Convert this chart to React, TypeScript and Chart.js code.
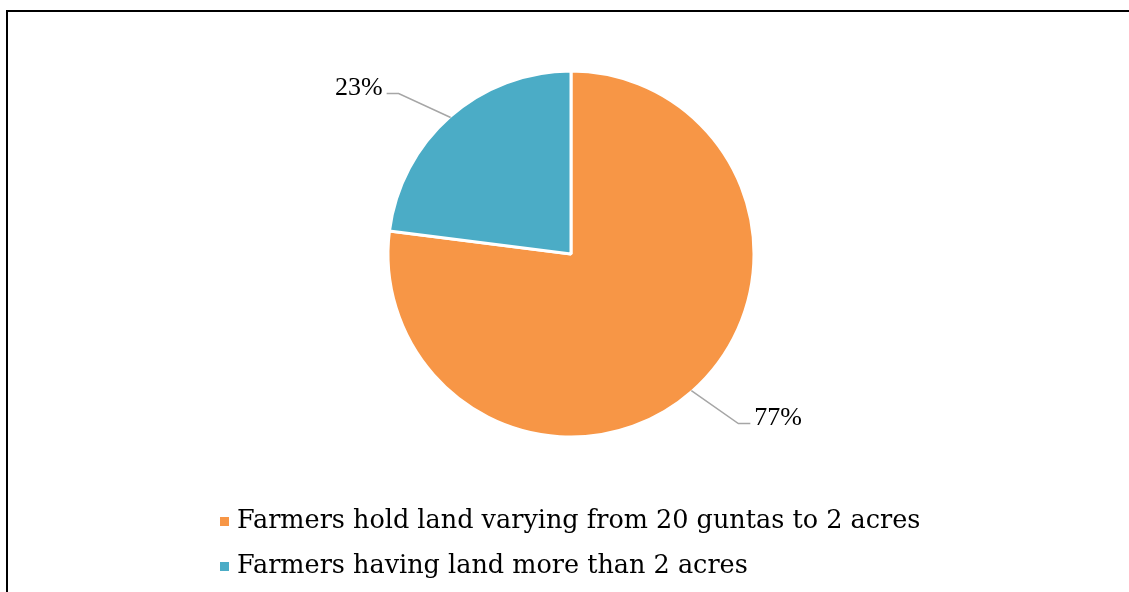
import React, { useEffect, useRef } from "react";
import { Chart, registerables } from "chart.js";

Chart.register(...registerables);

const categories = [
  "Farmers hold land varying from 20 guntas to 2 acres",
  "Farmers having land more than 2 acres",
];
const shares = [77, 23];
const sliceColors = ["#F79646", "#4BACC6"];

const W = 1129;
const H = 592;

// leader-line elbow offsets per slice (style only)
const leaderOffsets = [
  [47, 33],
  [52, 24],
];

const labelPlugin = {
  id: "leaderLabels",
  afterDraw(chart: any) {
    const ctx = chart.ctx;
    const meta = chart.getDatasetMeta(0);
    const data = chart.data.datasets[0].data as number[];
    const total = data.reduce((a, b) => a + b, 0);
    ctx.save();
    meta.data.forEach((arc: any, i: number) => {
      const { x, y, startAngle, endAngle, outerRadius } = arc.getProps(
        ["x", "y", "startAngle", "endAngle", "outerRadius"],
        true
      );
      const mid = (startAngle + endAngle) / 2;
      const ex = x + Math.cos(mid) * (outerRadius - 1);
      const ey = y + Math.sin(mid) * (outerRadius - 1);
      const sx = Math.cos(mid) >= 0 ? 1 : -1;
      const sy = Math.sin(mid) >= 0 ? 1 : -1;
      const [ox, oy] = leaderOffsets[i];
      const bx = ex + sx * ox;
      const by = ey + sy * oy;
      const tx = bx + sx * 12;
      ctx.strokeStyle = "#A6A6A6";
      ctx.lineWidth = 1.5;
      ctx.beginPath();
      ctx.moveTo(ex, ey);
      ctx.lineTo(bx, by);
      ctx.lineTo(tx, by);
      ctx.stroke();
      ctx.fillStyle = "#000";
      ctx.font = "26px 'Liberation Serif', serif";
      ctx.textAlign = sx > 0 ? "left" : "right";
      ctx.textBaseline = "alphabetic";
      const pct = Math.round((data[i] / total) * 100) + "%";
      ctx.fillText(pct, tx + sx * 4, by + 1.5);
    });
    ctx.restore();
  },
};

const legendPlugin = {
  id: "listLegend",
  afterDraw(chart: any) {
    const ctx = chart.ctx;
    const area = chart.chartArea;
    const ds = chart.data.datasets[0];
    ctx.save();
    ctx.font = "25.5px 'DejaVu Serif', serif";
    ctx.textBaseline = "alphabetic";
    ctx.textAlign = "left";
    (chart.data.labels as string[]).forEach((lab, i) => {
      const base = area.bottom + 20 + i * 45;
      ctx.fillStyle = ds.backgroundColor[i];
      ctx.fillRect(220, base - 11, 9, 9);
      ctx.fillStyle = "#000";
      ctx.fillText(lab, 237, base);
    });
    ctx.restore();
  },
};

export default function App() {
  const ref = useRef<HTMLCanvasElement>(null);
  useEffect(() => {
    if (!ref.current) return;
    const chart = new Chart(ref.current, {
      type: "pie",
      data: {
        labels: categories,
        datasets: [
          {
            data: shares,
            backgroundColor: sliceColors,
            borderColor: "#FFFFFF",
            borderWidth: 3,
          },
        ],
      },
      options: {
        responsive: false,
        animation: false,
        radius: 183,
        layout: { padding: { left: 13, right: 0, top: 0, bottom: 84 } },
        plugins: {
          legend: { display: false },
          tooltip: { enabled: false },
        },
      } as any,
      plugins: [labelPlugin, legendPlugin],
    });
    return () => chart.destroy();
  }, []);
  return (
    <div
      style={{
        position: "fixed",
        left: 0,
        top: 0,
        width: W,
        height: H,
        overflow: "hidden",
        background: "#fff",
      }}
    >
      <div
        style={{
          position: "absolute",
          left: 6,
          top: 10,
          width: W + 20,
          height: H + 20,
          borderTop: "2px solid #000",
          borderLeft: "2px solid #000",
        }}
      />
      <canvas
        ref={ref}
        width={W}
        height={H}
        style={{ position: "absolute", left: 0, top: 0, width: W, height: H }}
      />
    </div>
  );
}
